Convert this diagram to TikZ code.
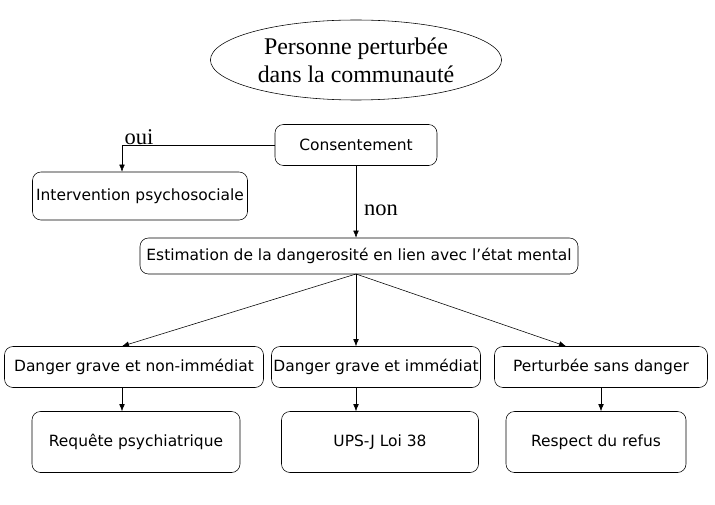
\documentclass[tikz,border=0pt]{standalone}
\usepackage{fontspec}
\setmainfont{DejaVu Sans}
\newfontfamily\serif{Liberation Serif}
\usetikzlibrary{shapes.geometric,arrows.meta}
\tikzset{
  box/.style={draw, rounded corners=6pt, font=\fontsize{11}{13}\selectfont, inner sep=0pt},
  link/.style={draw, -{Latex[length=5pt,width=4pt]}},
  word/.style={font=\serif\fontsize{16}{18}\selectfont}
}
\begin{document}
\begin{tikzpicture}[x=0.025cm,y=-0.025cm]
    \useasboundingbox (0,0) rectangle (715,505);
    \node[draw, ellipse, minimum width=238*0.025cm, minimum height=80*0.025cm, align=center,
          font=\serif\fontsize{17}{20}\selectfont] (personne) at (356,60) {Personne perturbée\\dans la communauté};
    \node[box, minimum width=162*0.025cm, minimum height=41*0.025cm] (consent) at (356,145) {Consentement};
    \node[box, minimum width=215*0.025cm, minimum height=48*0.025cm] (psycho) at (140,196) {Intervention psychosociale};
    \node[box, minimum width=438*0.025cm, minimum height=36*0.025cm] (estim) at (359,256) {Estimation de la dangerosité en lien avec l’état mental};
    \node[box, minimum width=259*0.025cm, minimum height=41*0.025cm] (nonimm) at (134,367) {Danger grave et non-immédiat};
    \node[box, minimum width=209*0.025cm, minimum height=41*0.025cm] (imm) at (376,367) {Danger grave et immédiat};
    \node[box, minimum width=213*0.025cm, minimum height=41*0.025cm] (sans) at (601,367) {Perturbée sans danger};
    \node[box, minimum width=208*0.025cm, minimum height=61*0.025cm] (requete) at (136,442) {Requête psychiatrique};
    \node[box, minimum width=197*0.025cm, minimum height=61*0.025cm] (ups) at (380,442) {UPS-J Loi 38};
    \node[box, minimum width=180*0.025cm, minimum height=61*0.025cm] (refus) at (596,442) {Respect du refus};

    \coordinate (fork) at (356,274);
    \path[link] (consent.west) -| (psycho.north -| 122,0);
    \node[word] (oui) at (139,137) {oui};
    \path[link] (consent.south) -- (estim.north -| consent.south);
    \node[word] (non) at (381,210) {non};
    \path[link] (fork) -- (nonimm.north -| 122,0);
    \path[link] (fork) -- (imm.north -| fork);
    \path[link] (fork) -- (sans.north -| 566,0);
    \path[link] (nonimm.south -| 122,0) -- (requete.north -| 122,0);
    \path[link] (imm.south -| fork) -- (ups.north -| fork);
    \path[link] (sans.south) -- (refus.north -| sans.south);
\end{tikzpicture}
\end{document}
